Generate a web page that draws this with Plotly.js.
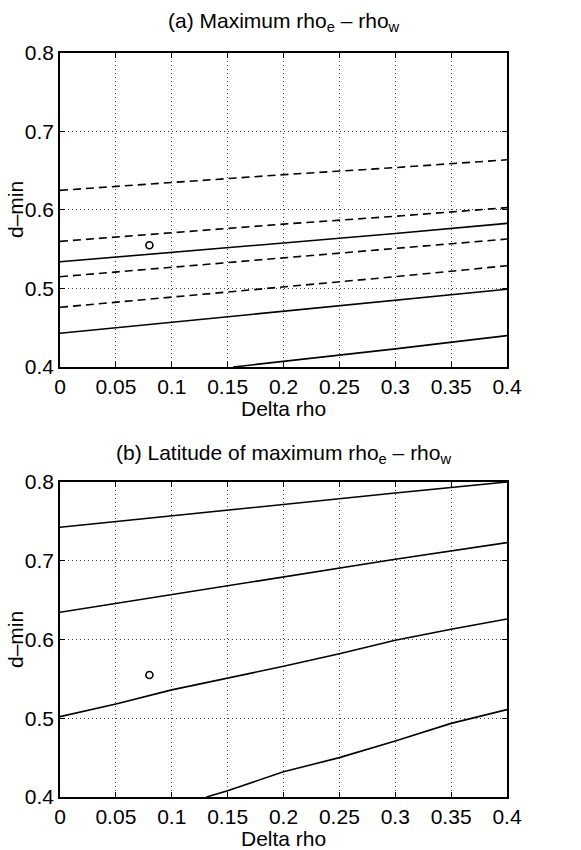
<!DOCTYPE html>
<html>
<head>
<meta charset="utf-8">
<script src="https://cdn.plot.ly/plotly-3.0.1.min.js"></script>
<style>html,body{margin:0;padding:0;background:#fff;}#chart{width:581px;height:850px;}</style>
</head>
<body>
<div id="chart"></div>
<script>
// ---- data ----
const xTickVals = [0, 0.05, 0.1, 0.15, 0.2, 0.25, 0.3, 0.35, 0.4];
const xTickText = ["0", "0.05", "0.1", "0.15", "0.2", "0.25", "0.3", "0.35", "0.4"];
const yTickVals = [0.4, 0.5, 0.6, 0.7, 0.8];
const yTickText = ["0.4", "0.5", "0.6", "0.7", "0.8"];

// Panel (a)
const xA = [0, 0.1, 0.2, 0.3, 0.4];
const aDash1 = [0.625, 0.635, 0.645, 0.654, 0.664];
const aDash2 = [0.560, 0.571, 0.582, 0.592, 0.603];
const aSolid1 = [0.534, 0.546, 0.558, 0.570, 0.583];
const aDash3 = [0.515, 0.527, 0.539, 0.551, 0.563];
const aDash4 = [0.476, 0.489, 0.502, 0.515, 0.529];
const aSolid2 = [0.443, 0.457, 0.471, 0.485, 0.499];
const xASolid3 = [0.155, 0.2, 0.3, 0.4];
const aSolid3 = [0.400, 0.407, 0.423, 0.440];

// Panel (b)
const xB1 = [0, 0.1, 0.2, 0.3, 0.4];
const bLine1 = [0.7425, 0.757, 0.772, 0.786, 0.800];
const bLine2 = [0.6345, 0.657, 0.680, 0.702, 0.723];
const xB3 = [0, 0.05, 0.1, 0.15, 0.2, 0.25, 0.3, 0.35, 0.4];
const bLine3 = [0.502, 0.518, 0.536, 0.551, 0.566, 0.582, 0.599, 0.613, 0.626];
const xB4 = [0.131, 0.15, 0.2, 0.25, 0.3, 0.35, 0.4];
const bLine4 = [0.400, 0.408, 0.432, 0.450, 0.471, 0.4935, 0.511];

// reference point
const ptX = [0.08];
const ptY = [0.555];

// ---- drawing ----
function ln(x, y, dashed, xa, ya) {
  return {x: x, y: y, xaxis: xa, yaxis: ya, type: 'scatter', mode: 'lines',
    line: {color: '#000', width: 1.6, dash: dashed ? '8px,5px' : 'solid'},
    hoverinfo: 'skip', showlegend: false};
}
function pt(xa, ya) {
  return {x: ptX, y: ptY, xaxis: xa, yaxis: ya, type: 'scatter', mode: 'markers',
    marker: {symbol: 'circle-open', size: 7, color: '#000', line: {width: 1.6, color: '#000'}},
    showlegend: false};
}
const traces = [
  ln(xA, aDash1, true, 'x', 'y'),
  ln(xA, aDash2, true, 'x', 'y'),
  ln(xA, aSolid1, false, 'x', 'y'),
  ln(xA, aDash3, true, 'x', 'y'),
  ln(xA, aDash4, true, 'x', 'y'),
  ln(xA, aSolid2, false, 'x', 'y'),
  ln(xASolid3, aSolid3, false, 'x', 'y'),
  pt('x', 'y'),
  ln(xB1, bLine1, false, 'x2', 'y2'),
  ln(xB1, bLine2, false, 'x2', 'y2'),
  ln(xB3, bLine3, false, 'x2', 'y2'),
  ln(xB4, bLine4, false, 'x2', 'y2'),
  pt('x2', 'y2')
];

const font = {family: 'Liberation Sans, Arial, sans-serif', size: 21, color: '#000'};
function xax(anchor) {
  return {anchor: anchor, range: [0, 0.4], tickvals: xTickVals, ticktext: xTickText,
    ticks: 'inside', ticklen: 5, tickwidth: 1, tickcolor: '#000',
    showline: true, linecolor: '#000', linewidth: 1.8, mirror: 'ticks',
    showgrid: true, gridcolor: '#444', griddash: '1px,3px', gridwidth: 1,
    zeroline: false, tickfont: font, ticklabelstandoff: 0, fixedrange: true};
}
function yax(anchor, dom) {
  return {anchor: anchor, domain: dom, range: [0.4, 0.8], tickvals: yTickVals, ticktext: yTickText,
    ticks: 'inside', ticklen: 5, tickwidth: 1, tickcolor: '#000',
    showline: true, linecolor: '#000', linewidth: 1.8, mirror: 'ticks',
    showgrid: true, gridcolor: '#444', griddash: '1px,3px', gridwidth: 1,
    zeroline: false, tickfont: font, ticklabelstandoff: 0, fixedrange: true};
}
const topDom = [0.578, 1];
const botDom = [0, 0.4234];
const layout = {
  width: 581, height: 850,
  margin: {l: 60, r: 74, t: 53, b: 53},
  paper_bgcolor: '#fff', plot_bgcolor: '#fff',
  font: font,
  showlegend: false,
  xaxis: xax('y'),
  yaxis: yax('x', topDom),
  xaxis2: xax('y2'),
  yaxis2: yax('x2', botDom),
  annotations: [
    {text: '(a) Maximum rho<sub>e</sub> \u2013 rho<sub>w</sub>', xref: 'paper', yref: 'paper',
     x: 0.5, y: (797 - 22) / 744, xanchor: 'center', yanchor: 'middle', showarrow: false, font: font},
    {text: '(b) Latitude of maximum rho<sub>e</sub> \u2013 rho<sub>w</sub>', xref: 'paper', yref: 'paper',
     x: 0.5, y: (797 - 454) / 744, xanchor: 'center', yanchor: 'middle', showarrow: false, font: font},
    {text: 'Delta rho', xref: 'paper', yref: 'paper',
     x: 0.5, y: (797 - 408) / 744, xanchor: 'center', yanchor: 'middle', showarrow: false, font: font},
    {text: 'Delta rho', xref: 'paper', yref: 'paper',
     x: 0.5, y: (797 - 838) / 744, xanchor: 'center', yanchor: 'middle', showarrow: false, font: font},
    {text: 'd\u2013min', xref: 'paper', yref: 'paper', textangle: -90,
     x: -45 / 447, y: (797 - 210) / 744, xanchor: 'center', yanchor: 'middle', showarrow: false, font: font},
    {text: 'd\u2013min', xref: 'paper', yref: 'paper', textangle: -90,
     x: -45 / 447, y: (797 - 640) / 744, xanchor: 'center', yanchor: 'middle', showarrow: false, font: font}
  ]
};
Plotly.newPlot('chart', traces, layout, {displayModeBar: false, staticPlot: true});
</script>
</body>
</html>
